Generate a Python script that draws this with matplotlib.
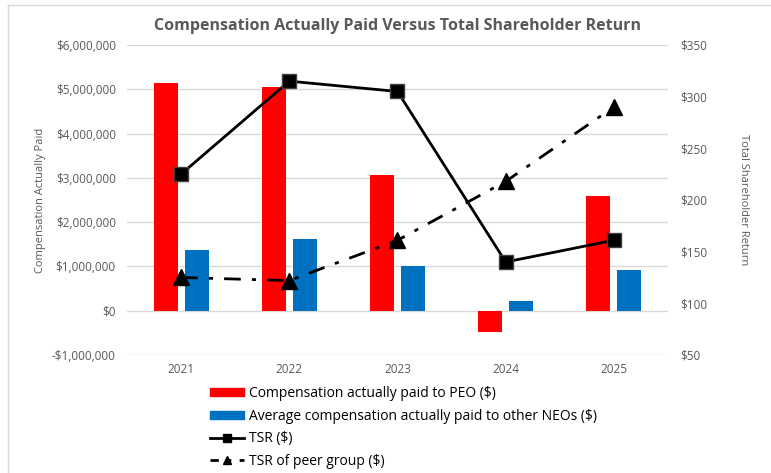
import numpy as np
import matplotlib.pyplot as plt
from matplotlib.lines import Line2D
from matplotlib.patches import Patch
from matplotlib.ticker import FuncFormatter

plt.rcParams['font.family'] = ['Open Sans', 'DejaVu Sans']

years = ['2021', '2022', '2023', '2024', '2025']
cap_peo = [5140000, 5050000, 3070000, -490000, 2600000]
cap_neo = [1380000, 1620000, 1000000, 220000, 930000]
tsr = [225, 315, 305, 140, 161]
tsr_peer = [125, 122, 161, 218, 290]

labels = ['Compensation actually paid to PEO ($)',
          'Average compensation actually paid to other NEOs ($)',
          'TSR ($)',
          'TSR of peer group ($)']

grey = '#595959'
red = '#ff0000'
blue = '#0070c0'
peer_ls = (0, (6, 4, 1.5, 4))
x = np.arange(len(years))

fig = plt.figure(figsize=(7.71, 4.73), dpi=100)
ax = fig.add_axes([0.1647, 0.2495, 0.7017, 0.6554])
ax2 = ax.twinx()

# bars on the left axis
w = 0.222
ax.bar(x - 0.143, cap_peo, width=w, color=red, zorder=2)
ax.bar(x + 0.143, cap_neo, width=w, color=blue, zorder=2)
ax.set_ylim(-1000000, 6000000)
ax.set_yticks(range(-1000000, 6000001, 1000000))
ax.yaxis.set_major_formatter(FuncFormatter(
    lambda v, p: ('-$' if v < 0 else '$') + format(int(abs(v)), ',')))
ax.set_xlim(-0.5, 4.5)
ax.set_xticks(x)
ax.set_xticklabels(years)
ax.grid(axis='y', color='#d9d9d9', linewidth=1, zorder=0)
ax.set_axisbelow(True)
ax.set_ylabel('Compensation Actually Paid', color=grey, fontsize=8, labelpad=4)

# lines on the right axis
ax2.plot(x, tsr, color='black', linewidth=2, marker='s', markersize=10.5,
         markeredgecolor='#404040', zorder=4)
ax2.plot(x, tsr_peer, color='black', linewidth=2, linestyle=peer_ls,
         marker='^', markersize=11, zorder=4)
ax2.set_ylim(50, 350)
ax2.set_yticks(range(50, 351, 50))
ax2.yaxis.set_major_formatter(FuncFormatter(lambda v, p: '$%d' % v))
ax2.set_ylabel('Total Shareholder Return', color=grey, fontsize=8,
               rotation=270, labelpad=30)

for a in (ax, ax2):
    for s in a.spines.values():
        s.set_visible(False)
    a.tick_params(length=0, colors=grey, labelsize=8.5)
ax.tick_params(axis='y', pad=8)
ax.tick_params(axis='x', pad=6)
ax2.tick_params(axis='y', pad=9)

fig.text(0.516, 0.946, 'Compensation Actually Paid Versus Total Shareholder Return',
         ha='center', va='center', fontsize=11.5, fontweight='bold', color=grey)

handles = [Patch(color=red), Patch(color=blue),
           Line2D([], [], color='black', linewidth=2, marker='s', markersize=6),
           Line2D([], [], color='black', linewidth=2, linestyle=(0, (3, 3, 1.5, 3)),
                  marker='^', markersize=6)]
fig.legend(handles, labels, loc='upper left', bbox_to_anchor=(0.272, 0.184),
           frameon=False, fontsize=10, handlelength=2.5, handleheight=0.5,
           labelspacing=0.55, handletextpad=0.35, borderaxespad=0, borderpad=0)

# chart frame lines (top and left)
fig.add_artist(Line2D([0.0104, 1.0], [0.990, 0.990], color='#d9d9d9', linewidth=1))
fig.add_artist(Line2D([0.0104, 0.0104], [0.0, 0.990], color='#d9d9d9', linewidth=1))

fig.savefig('out.png', dpi=100)
